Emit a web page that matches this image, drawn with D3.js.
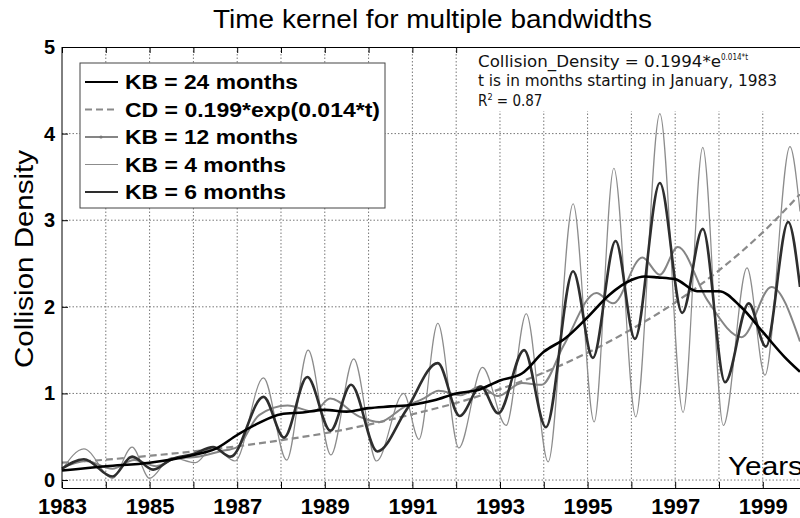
<!DOCTYPE html>
<html>
<head>
<meta charset="utf-8">
<script src="https://cdn.jsdelivr.net/npm/d3@7/dist/d3.min.js"></script>
<style>
  body { margin: 0; background: #fff; }
  svg { display: block; font-family: "Liberation Sans", Arial, Helvetica, sans-serif; }
</style>
</head>
<body>
<div id="chart"></div>
<script>
// values
const kb24Years = [1983, 1984, 1985, 1986, 1986.5, 1987, 1987.5, 1988, 1988.5, 1989, 1989.5, 1990, 1990.5, 1991, 1991.5, 1992, 1992.5, 1993, 1993.5, 1994, 1994.5, 1995, 1995.5, 1996, 1996.3, 1996.6, 1997, 1997.5, 1998, 1998.5, 1999, 1999.5, 1999.85];
const kb24Values = [0.11, 0.16, 0.2, 0.29, 0.36, 0.52, 0.66, 0.76, 0.78, 0.81, 0.79, 0.83, 0.85, 0.87, 0.92, 1.0, 1.04, 1.15, 1.23, 1.48, 1.64, 1.88, 2.14, 2.31, 2.35, 2.34, 2.32, 2.18, 2.18, 2.0, 1.71, 1.42, 1.25];

const cdYears = [1983, 1984, 1985, 1986, 1987, 1988, 1989, 1990, 1991, 1992, 1993, 1994, 1995, 1996, 1997, 1998, 1999, 1999.85];
const cdValues = [0.2, 0.235, 0.28, 0.33, 0.39, 0.46, 0.54, 0.64, 0.76, 0.89, 1.05, 1.24, 1.47, 1.74, 2.05, 2.42, 2.86, 3.3];

const kb12Years = [1983, 1983.55, 1984.15, 1984.65, 1985.15, 1985.6, 1986.1, 1986.6, 1987, 1987.5, 1988.15, 1988.75, 1989.12, 1989.8, 1990.25, 1990.8, 1991.25, 1991.6, 1992.1, 1992.55, 1992.95, 1993.5, 1993.95, 1994.45, 1995.2, 1995.58, 1996.25, 1996.65, 1997.06, 1997.73, 1998.52, 1999.2, 1999.85];
const kb12Values = [0.14, 0.22, 0.13, 0.23, 0.16, 0.25, 0.27, 0.33, 0.38, 0.75, 0.86, 0.79, 0.94, 0.73, 0.67, 0.84, 0.94, 1.03, 0.98, 1.08, 0.97, 1.12, 1.1, 1.55, 2.16, 2.04, 2.57, 2.37, 2.69, 2.08, 1.65, 2.23, 1.6];

const kb4Years = [1983, 1983.5, 1984.15, 1984.6, 1985, 1985.5, 1986.05, 1986.45, 1986.95, 1987.6, 1988.13, 1988.62, 1989.14, 1989.66, 1990.18, 1990.8, 1991.15, 1991.58, 1992.06, 1992.6, 1993.14, 1993.6, 1994.1, 1994.67, 1995.15, 1995.6, 1996.1, 1996.65, 1997.18, 1997.63, 1998.1, 1998.64, 1999.05, 1999.62, 1999.85];
const kb4Values = [0.12, 0.36, 0.02, 0.38, 0.02, 0.26, 0.2, 0.38, 0.22, 1.18, 0.23, 1.5, 0.29, 1.4, 0.22, 1.0, 0.47, 1.81, 0.37, 1.3, 0.63, 1.92, 0.21, 3.19, 0.67, 3.6, 0.73, 4.23, 0.78, 3.84, 0.63, 2.45, 1.21, 3.85, 3.1];

const kb6Years = [1983, 1983.5, 1984.15, 1984.6, 1985.08, 1985.5, 1986, 1986.45, 1986.85, 1987.6, 1988.07, 1988.6, 1989.13, 1989.6, 1990.2, 1990.85, 1991.58, 1992.08, 1992.56, 1992.96, 1993.55, 1994.05, 1994.67, 1995.12, 1995.64, 1996.08, 1996.65, 1997.16, 1997.63, 1998.14, 1998.68, 1999.07, 1999.58, 1999.85];
const kb6Values = [0.13, 0.24, 0.04, 0.27, 0.12, 0.24, 0.3, 0.38, 0.27, 0.96, 0.49, 1.19, 0.57, 1.1, 0.33, 0.8, 1.35, 0.74, 1.08, 0.77, 1.5, 0.61, 2.41, 1.41, 2.76, 1.63, 3.43, 1.93, 2.9, 1.13, 2.04, 1.54, 2.98, 2.23];

const gridYears = d3.range(1983, 2000);
const yTicks = [0, 1, 2, 3, 4, 5];
const legendLabels = ["KB = 24 months", "CD = 0.199*exp(0.014*t)", "KB = 12 months", "KB = 4 months", "KB = 6 months"];
const noteLines = ["Collision_Density = 0.1994*e", "t is in months starting in January, 1983", "R"];

const series = [
    { name: "CD", years: cdYears, values: cdValues, color: "#8a8a8a", width: 2.2, dash: "7,4" },
    { name: "KB4", years: kb4Years, values: kb4Values, color: "#8c8c8c", width: 1.2, dash: null },
    { name: "KB12", years: kb12Years, values: kb12Values, color: "#858585", width: 2, dash: null },
    { name: "KB6", years: kb6Years, values: kb6Values, color: "#2e2e2e", width: 2.6, dash: null },
    { name: "KB24", years: kb24Years, values: kb24Values, color: "#000", width: 2.6, dash: null }
];

const svg = d3.select("#chart").append("svg")
    .attr("width", 800)
    .attr("height", 518);

const margin = { top: 47, right: 0, bottom: 30, left: 62 },
    width = +svg.attr("width"),
    height = +svg.attr("height");

const x = d3.scaleLinear()
    .domain([1983, 1999.85])
    .range([margin.left, width - margin.right]);

const y = d3.scaleLinear()
    .domain([-0.092, 5])
    .range([height - margin.bottom, margin.top]);

// dotted grid
svg.append("g")
    .selectAll("line")
    .data(gridYears.slice(1))
    .join("line")
    .attr("x1", d => x(d)).attr("x2", d => x(d))
    .attr("y1", y(5)).attr("y2", y.range()[0])
    .attr("stroke", "#777").attr("stroke-width", 1).attr("stroke-dasharray", "1.5,2");

svg.append("g")
    .selectAll("line")
    .data(yTicks.slice(0, -1))
    .join("line")
    .attr("x1", x.range()[0]).attr("x2", x.range()[1])
    .attr("y1", d => y(d)).attr("y2", d => y(d))
    .attr("stroke", "#777").attr("stroke-width", 1).attr("stroke-dasharray", "1.5,2");

// top border with ticks
svg.append("g")
    .attr("transform", `translate(0,${y(5)})`)
    .call(d3.axisTop(x).tickValues(gridYears).tickSize(-6).tickSizeOuter(0).tickFormat(""))
    .call(g => g.selectAll("line, path").attr("stroke", "#000"));

// annotation box covers the grid
svg.append("rect")
    .attr("x", 466).attr("y", y(5) + 1)
    .attr("width", 340).attr("height", 63)
    .attr("fill", "#fff");

const line = d3.line()
    .x(d => x(d[0]))
    .y(d => y(d[1]))
    .curve(d3.curveMonotoneX);

series.forEach(s => {
    svg.append("path")
        .datum(s.years.map((yr, i) => [yr, s.values[i]]))
        .attr("fill", "none")
        .attr("stroke", s.color)
        .attr("stroke-width", s.width)
        .attr("stroke-dasharray", s.dash)
        .attr("stroke-linejoin", "round")
        .attr("d", line);
});

// axes
svg.append("g")
    .attr("transform", `translate(0,${y.range()[0]})`)
    .call(d3.axisBottom(x).tickValues(gridYears).tickSize(-6).tickSizeOuter(0).tickPadding(10)
        .tickFormat(d => d % 2 ? d : ""))
    .call(g => g.selectAll("line, path").attr("stroke", "#000"))
    .call(g => g.selectAll("text")
        .attr("font-family", "\"Liberation Sans\", Arial, sans-serif")
        .attr("font-size", 22).attr("font-weight", "bold").attr("fill", "#000"));

svg.append("g")
    .attr("transform", `translate(${x.range()[0]},0)`)
    .call(d3.axisLeft(y).tickValues(yTicks).tickSize(-6).tickSizeOuter(0).tickPadding(7).tickFormat(d3.format("d")))
    .call(g => g.select(".domain").attr("d", `M0,${y.range()[0]}V${y(5)}`))
    .call(g => g.selectAll("line, path").attr("stroke", "#000"))
    .call(g => g.selectAll("text")
        .attr("font-family", "\"Liberation Sans\", Arial, sans-serif")
        .attr("font-size", 20).attr("font-weight", "bold").attr("fill", "#000"));

// titles
svg.append("text")
    .attr("x", 213).attr("y", 28)
    .attr("font-size", 25)
    .attr("textLength", 439).attr("lengthAdjust", "spacingAndGlyphs")
    .text("Time kernel for multiple bandwidths");

svg.append("text")
    .attr("transform", "translate(33,259) rotate(-90)")
    .attr("text-anchor", "middle")
    .attr("font-size", 25)
    .attr("textLength", 218).attr("lengthAdjust", "spacingAndGlyphs")
    .text("Collision Density");

svg.append("text")
    .attr("x", 728).attr("y", 475)
    .attr("font-size", 25)
    .attr("textLength", 75).attr("lengthAdjust", "spacingAndGlyphs")
    .text("Years");

// fit note
const note = svg.append("g")
    .attr("font-family", "\"DejaVu Sans Condensed\", \"DejaVu Sans\", Tahoma, sans-serif")
    .attr("font-size", 15)
    .attr("fill", "#111");

const note1 = note.append("text").attr("x", 478).attr("y", 67);
note1.append("tspan").attr("textLength", 243).attr("lengthAdjust", "spacingAndGlyphs").text(noteLines[0]);
note1.append("tspan").attr("font-size", 8).attr("dy", -7).text("0.014*t");

note.append("text").attr("x", 478).attr("y", 86)
    .attr("textLength", 299).attr("lengthAdjust", "spacingAndGlyphs")
    .text(noteLines[1]);

const note3 = note.append("text").attr("x", 478).attr("y", 106);
note3.append("tspan").text(noteLines[2]);
note3.append("tspan").attr("font-size", 9).attr("dy", -6).text("2");
note3.append("tspan").attr("dy", 6).text(" = 0.87");

// legend
const legend = svg.append("g")
    .attr("transform", "translate(80,63)");

legend.append("rect")
    .attr("width", 305).attr("height", 145)
    .attr("fill", "#fff")
    .attr("stroke", "#444").attr("stroke-width", 1);

const legendOrder = [series[4], series[0], series[2], series[1], series[3]];
const legendWidths = [173, 255, 173, 161, 161];

legendOrder.forEach((s, i) => {
    const row = legend.append("g")
        .attr("transform", `translate(0, ${19 + i * 27.5})`);

    row.append("line")
        .attr("x1", 5).attr("x2", 38)
        .attr("stroke", s.color)
        .attr("stroke-width", s.name === "KB4" ? 1.2 : 2)
        .attr("stroke-dasharray", s.dash);

    if (s.name === "KB12") {
        row.append("circle").attr("cx", 21).attr("r", 1.6).attr("fill", "#777");
    }

    row.append("text")
        .attr("x", 45).attr("y", 7)
        .attr("font-size", 20).attr("font-weight", "bold")
        .attr("textLength", legendWidths[i]).attr("lengthAdjust", "spacingAndGlyphs")
        .text(legendLabels[i]);
});
</script>
</body>
</html>
